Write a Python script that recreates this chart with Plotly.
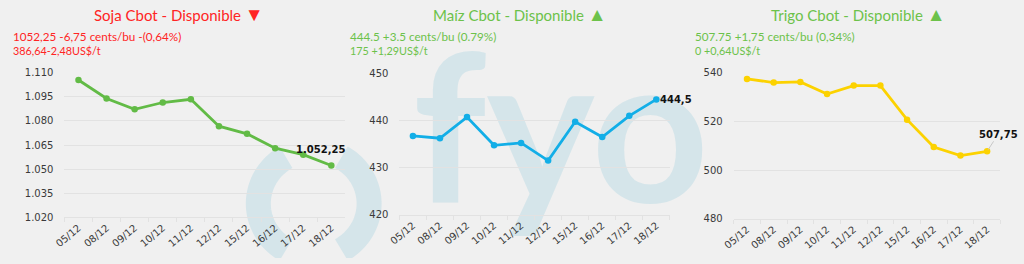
import numpy as np
import plotly.graph_objects as go

# ---------------- data ----------------
dates = ["05/12", "08/12", "09/12", "10/12", "11/12", "12/12", "15/12", "16/12", "17/12", "18/12"]
soja = [1105.5, 1094, 1087.25, 1091.5, 1093.5, 1076.75, 1072, 1063, 1059, 1052.25]
maiz = [436.75, 436.25, 440.75, 434.75, 435.25, 431.5, 439.75, 436.5, 441, 444.5]
trigo = [537.5, 536, 536.25, 531.25, 534.75, 534.75, 520.75, 509.5, 506, 507.75]

soja_ticks = [1020, 1035, 1050, 1065, 1080, 1095, 1110]
maiz_ticks = [420, 430, 440, 450]
trigo_ticks = [480, 500, 520, 540]

titles = ["Soja Cbot - Disponible", "Maíz Cbot - Disponible", "Trigo Cbot - Disponible"]
arrows = ["▼", "▲", "▲"]
sub1 = ["1052,25 -6,75 cents/bu -(0,64%)", "444.5 +3.5 cents/bu (0.79%)", "507.75 +1,75 cents/bu (0,34%)"]
sub2 = ["386,64-2,48US$/t", "175 +1,29US$/t", "0 +0,64US$/t"]
last_labels = ["1.052,25", "444,5", "507,75"]

# ---------------- style ----------------
W, H = 1024, 264
BG = "#f0f0f0"
RED = "#ff2424"
GREEN = "#6cc24a"
WM = "#d5e5ea"
GRID = "#e2e2e2"
TICKC = "#3a3a3a"
line_colors = ["#62bb46", "#12aee7", "#fcd200"]
title_colors = [RED, GREEN, GREEN]
xdoms = [(54, 338), (392.6, 666), (730.5, 1000.2)]
ydoms = [(221.3, 70), (218.7, 70.7), (223, 70)]
title_cx = [170, 515, 856.5]
sub_x = [0, 341, 689]

def px(x):
    return x / W

def py(y):
    return 1 - y / H

fig = go.Figure()

# background axis (full paper, pixel-like coordinates) for the watermark
fig.add_trace(go.Scatter(
    x=[556], y=[H - 151.5], mode="text", text=["fyo"],
    textfont=dict(family="Lato", size=205, color=WM, weight="bold"),
    textposition="middle center", hoverinfo="skip", showlegend=False,
    cliponaxis=False, xaxis="x", yaxis="y"))

# parentheses of the logo as arcs
cx, cy, r = 306, H - 207, 56
def arc(a0, a1):
    t = np.radians(np.linspace(a0, a1, 40))
    pts = [f"{cx + r*np.cos(a):.2f},{cy + r*np.sin(a):.2f}" for a in t]
    return "M " + " L ".join(pts)

for a0, a1 in [(120, 240), (-60, 60)]:
    fig.add_shape(type="path", path=arc(a0, a1), xref="x", yref="y",
                  line=dict(color=WM, width=25), layer="below")

series = [soja, maiz, trigo]
ticks = [soja_ticks, maiz_ticks, trigo_ticks]
layout_axes = {}
layout_axes["xaxis"] = dict(domain=[0, 1], range=[0, W], visible=False, fixedrange=True)
layout_axes["yaxis"] = dict(domain=[0, 1], range=[0, H], visible=False, fixedrange=True)

for i in range(3):
    n = i + 2
    xa, ya = f"x{n}", f"y{n}"
    fig.add_trace(go.Scatter(
        x=dates, y=series[i], mode="lines+markers",
        line=dict(color=line_colors[i], width=2.8),
        marker=dict(color=line_colors[i], size=6.5),
        xaxis=xa, yaxis=ya, showlegend=False, cliponaxis=False))
    tk = ticks[i]
    layout_axes[f"xaxis{n}"] = dict(
        domain=[px(xdoms[i][0]), px(xdoms[i][1])], anchor=ya, type="category",
        categoryorder="array", categoryarray=dates,
        range=[-0.5, len(dates) - 0.5], autorange=False,
        tickangle=-40, tickson="boundaries", ticks="outside", ticklen=4,
        tickcolor=GRID, showline=True, linecolor=GRID, linewidth=1,
        showgrid=False, tickfont=dict(family="DejaVu Sans", size=10, color=TICKC),
        fixedrange=True)
    layout_axes[f"yaxis{n}"] = dict(
        domain=[py(ydoms[i][0]), py(ydoms[i][1])], anchor=xa,
        range=[tk[0], tk[-1]], autorange=False, tickvals=tk,
        tickformat=",.0f", showgrid=True, gridcolor=GRID, gridwidth=1,
        zeroline=False, showline=False, ticks="", ticklabelstandoff=10,
        tickfont=dict(family="DejaVu Sans", size=10, color=TICKC),
        fixedrange=True)

annotations = []
for i in range(3):
    annotations.append(dict(
        x=px(title_cx[i]), y=py(8), xref="paper", yref="paper",
        text=f"{titles[i]} <span style='font-size:19px'>{arrows[i]}</span>",
        showarrow=False, xanchor="center", yanchor="middle",
        font=dict(family="Lato", size=15, color=title_colors[i])))
    annotations.append(dict(
        x=px(sub_x[i]), y=py(31), xref="paper", yref="paper",
        text=sub1[i], showarrow=False, xanchor="left", yanchor="middle",
        font=dict(family="Lato", size=11.7, color=title_colors[i])))
    annotations.append(dict(
        x=px(sub_x[i]), y=py(47), xref="paper", yref="paper",
        text=sub2[i], showarrow=False, xanchor="left", yanchor="middle",
        font=dict(family="Lato", size=10.8, color=title_colors[i])))

lab_font = dict(family="DejaVu Sans", size=10, color="#111111", weight="bold")
annotations.append(dict(x=dates[-1], y=soja[-1], xref="x2", yref="y2",
                        text=last_labels[0], showarrow=False, xshift=-10.5, yshift=16,
                        xanchor="center", yanchor="middle", font=lab_font))
annotations.append(dict(x=dates[-1], y=maiz[-1], xref="x3", yref="y3",
                        text=last_labels[1], showarrow=False, xshift=2,
                        xanchor="left", yanchor="middle", font=lab_font))
annotations.append(dict(x=dates[-1], y=trigo[-1], xref="x4", yref="y4",
                        text=last_labels[2], showarrow=True, ax=11, ay=-17,
                        arrowhead=0, arrowwidth=1, arrowcolor="#c8c8c8",
                        standoff=2, font=lab_font))

fig.update_layout(
    width=W, height=H, autosize=False,
    margin=dict(l=0, r=0, t=0, b=0, pad=0),
    paper_bgcolor=BG, plot_bgcolor="rgba(0,0,0,0)",
    separators=",.", showlegend=False,
    annotations=annotations, **layout_axes)

fig.write_html("out.html", config={"displayModeBar": False})
